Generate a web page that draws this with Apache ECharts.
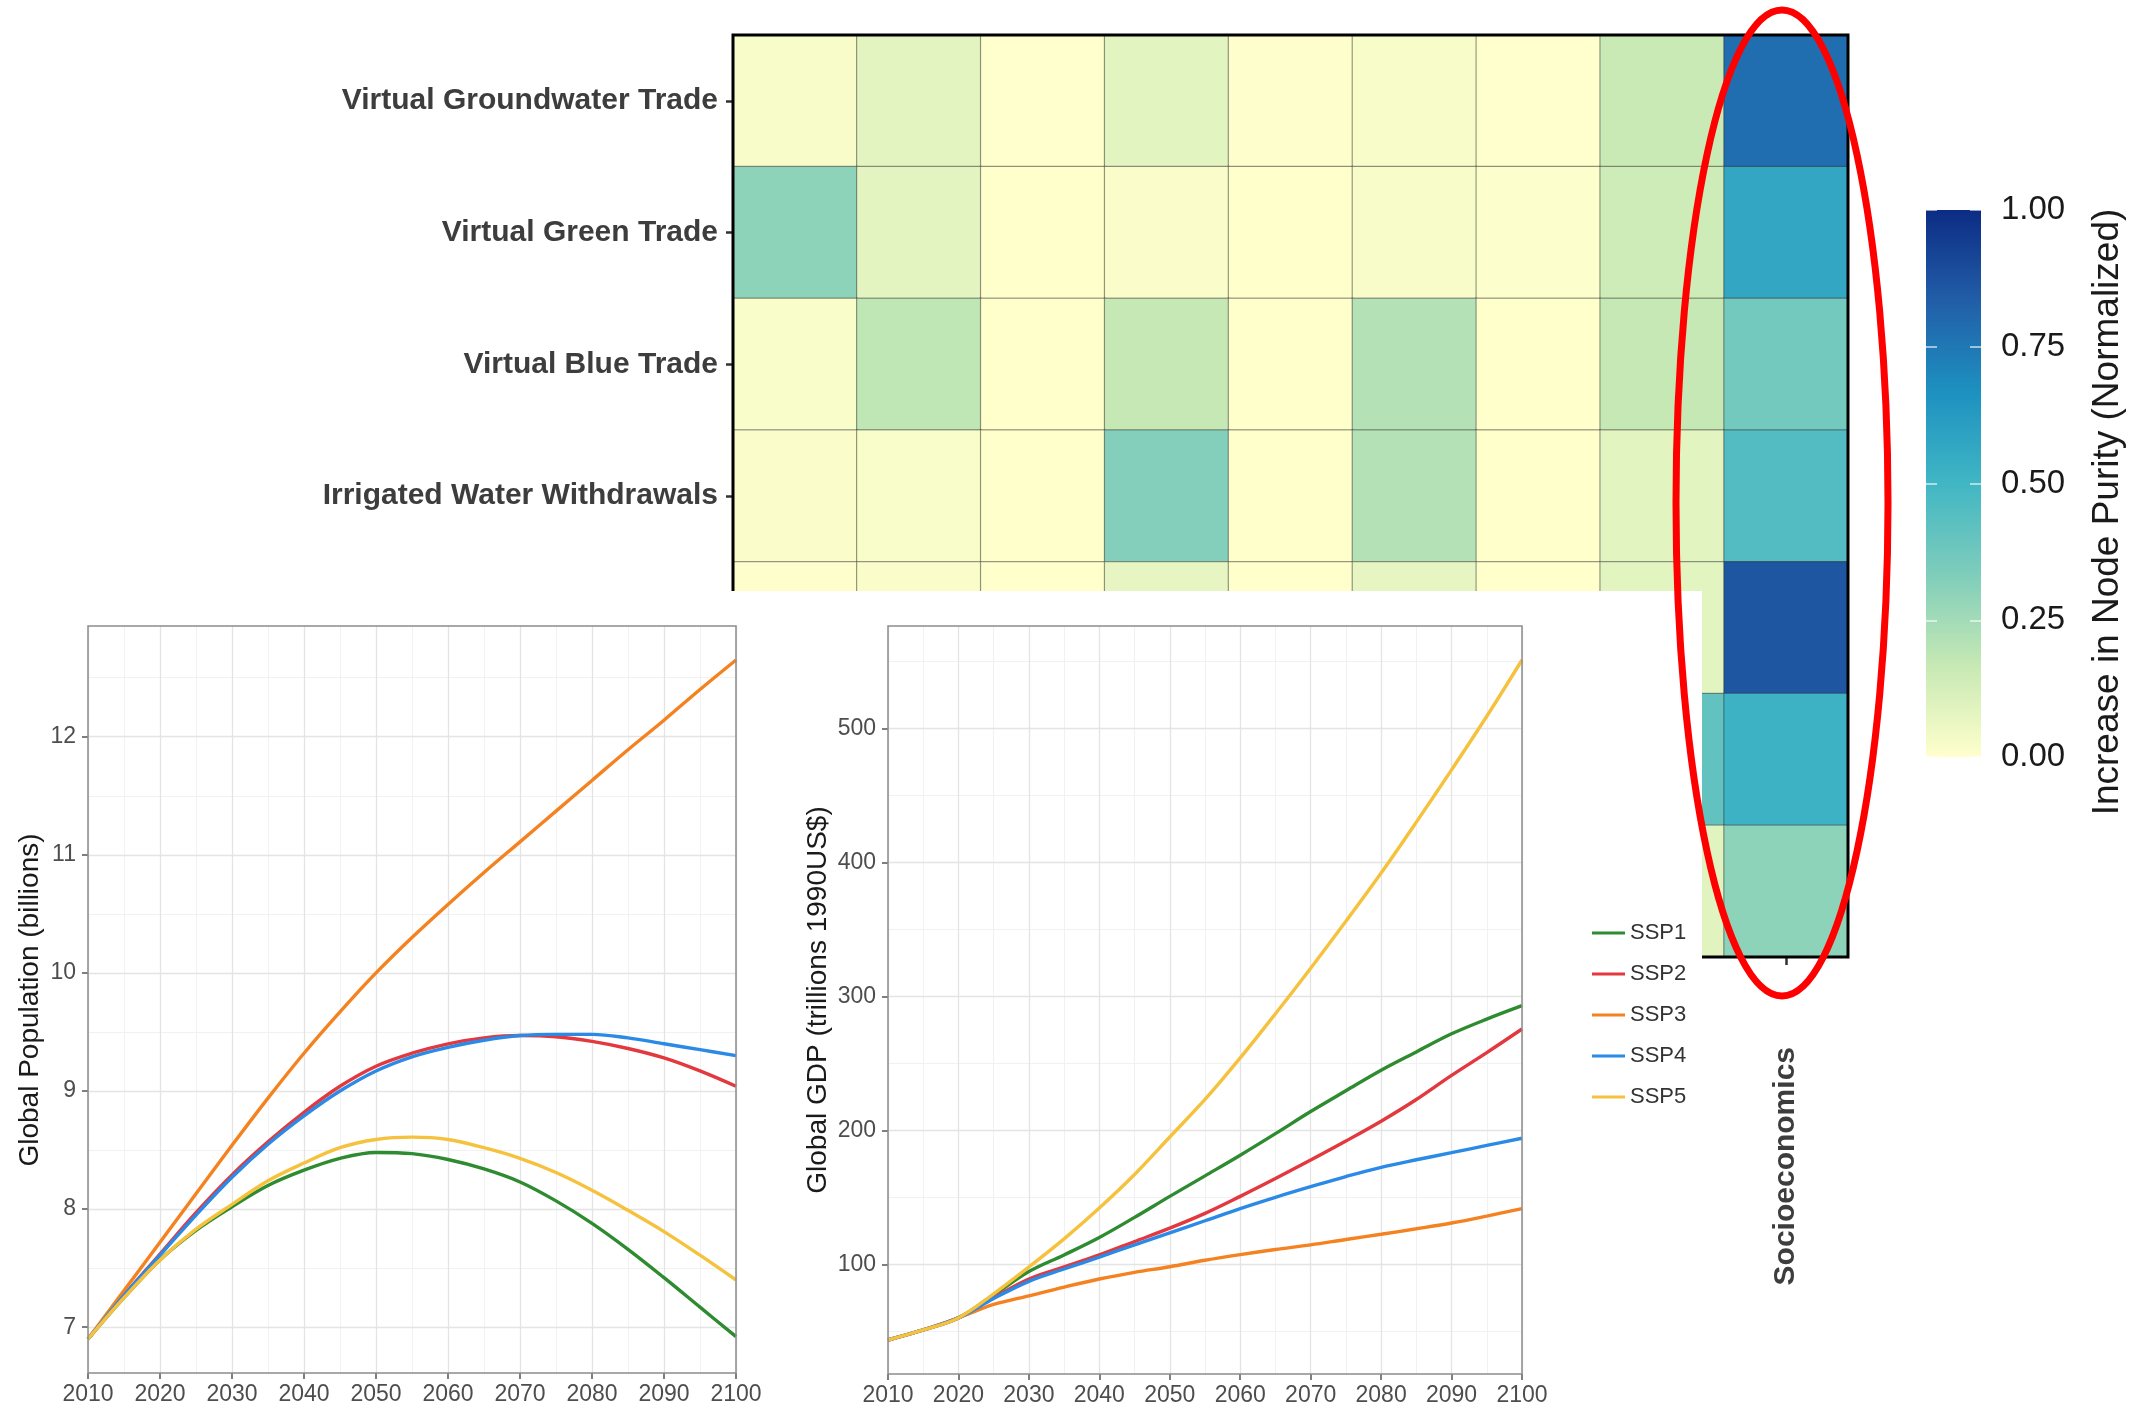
<!DOCTYPE html>
<html><head><meta charset="utf-8">
<script src="https://cdn.jsdelivr.net/npm/echarts@6/dist/echarts.min.js"></script>
<style>html,body{margin:0;padding:0;background:#fff}#c{width:2137px;height:1408px}</style>
</head><body><div id="c"></div>
<script>
const FONT = '"Liberation Sans", Arial, Helvetica, sans-serif';

// ---------- heatmap data ----------
const rowNames = ['Virtual Groundwater Trade', 'Virtual Green Trade', 'Virtual Blue Trade', 'Irrigated Water Withdrawals', '', '', ''];
const colNames = ['', '', '', '', '', '', '', '', 'Socioeconomics'];
const purityRow1 = [0.020, 0.083, 0.003, 0.085, 0.005, 0.024, 0.002, 0.160, 0.780];
const purityRow2 = [0.300, 0.080, 0.000, 0.015, 0.000, 0.024, 0.010, 0.146, 0.570];
const purityRow3 = [0.018, 0.185, 0.000, 0.170, 0.000, 0.210, 0.000, 0.170, 0.365];
const purityRow4 = [0.015, 0.018, 0.000, 0.324, 0.000, 0.210, 0.000, 0.085, 0.455];
const purityRow5 = [0.005, 0.015, 0.000, 0.075, 0.000, 0.075, 0.000, 0.085, 0.860];
const purityRow6 = [0.000, 0.000, 0.000, 0.000, 0.000, 0.000, 0.000, 0.410, 0.520];
const purityRow7 = [0.000, 0.000, 0.000, 0.000, 0.000, 0.000, 0.000, 0.090, 0.300];
const purityRows = [purityRow1, purityRow2, purityRow3, purityRow4, purityRow5, purityRow6, purityRow7];
const ylgnbu = ['#ffffcc', '#c7e9b4', '#7fcdbb', '#41b6c4', '#1d91c0', '#225ea8', '#0c2c84'];

// ---------- scenario data ----------
const scenarioNames = ['SSP1', 'SSP2', 'SSP3', 'SSP4', 'SSP5'];
const scenarioColors = ['#2e8b30', '#e2383e', '#f58220', '#2b8ae6', '#f6c23e'];
const years = [2010, 2015, 2020, 2025, 2030, 2035, 2040, 2045, 2050, 2055, 2060, 2065, 2070, 2075, 2080, 2085, 2090, 2095, 2100];

const popSSP1 = [6.90, 7.25, 7.57, 7.82, 8.02, 8.20, 8.33, 8.43, 8.48, 8.47, 8.42, 8.34, 8.23, 8.07, 7.88, 7.66, 7.42, 7.17, 6.92];
const popSSP2 = [6.90, 7.27, 7.62, 7.97, 8.29, 8.57, 8.82, 9.04, 9.21, 9.32, 9.40, 9.45, 9.47, 9.46, 9.42, 9.36, 9.28, 9.17, 9.04];
const popSSP3 = [6.90, 7.31, 7.72, 8.13, 8.54, 8.94, 9.32, 9.67, 10.00, 10.30, 10.58, 10.85, 11.11, 11.37, 11.63, 11.89, 12.14, 12.40, 12.65];
const popSSP4 = [6.90, 7.27, 7.61, 7.95, 8.27, 8.55, 8.79, 9.00, 9.17, 9.29, 9.37, 9.43, 9.47, 9.48, 9.48, 9.45, 9.40, 9.35, 9.30];
const popSSP5 = [6.90, 7.25, 7.57, 7.83, 8.04, 8.24, 8.39, 8.52, 8.59, 8.61, 8.59, 8.52, 8.43, 8.31, 8.16, 7.99, 7.81, 7.61, 7.40];

const gdpSSP1 = [43.5, 51, 60, 77, 94.6, 107, 120, 135, 150.7, 166, 181.4, 197.5, 214, 229.5, 244.8, 258.5, 272, 283, 293];
const gdpSSP2 = [43.5, 51, 60, 75, 89, 98, 107, 117, 127, 138, 150.7, 164, 177.8, 192, 206.8, 223, 241, 258, 275.6];
const gdpSSP3 = [43.5, 51, 60, 70, 76.5, 83, 89, 94, 98.2, 103, 107.2, 111, 114.5, 118.5, 122.4, 126.5, 130.8, 136, 141.6];
const gdpSSP4 = [43.5, 51, 60, 74.5, 87.3, 96.5, 105.4, 114.5, 123.5, 132.5, 141.6, 150, 157.9, 165.5, 172.4, 178, 183.3, 188.7, 194.1];
const gdpSSP5 = [43.5, 51, 60, 78, 98, 119, 142, 167, 195, 223, 254, 287, 321, 356, 392, 430, 469, 509, 551];

const popSeries = [popSSP1, popSSP2, popSSP3, popSSP4, popSSP5];
const gdpSeries = [gdpSSP1, gdpSSP2, gdpSSP3, gdpSSP4, gdpSSP5];

const popTicks = [7, 8, 9, 10, 11, 12];
const popMinorTicks = [7.5, 8.5, 9.5, 10.5, 11.5, 12.5];
const gdpTicks = [100, 200, 300, 400, 500];
const gdpMinorTicks = [50, 150, 250, 350, 450, 550];

// ggplot-like 5% expansion of the data range
function expandRange(arrs) {
  let mn = Infinity, mx = -Infinity;
  arrs.forEach(a => a.forEach(v => { mn = Math.min(mn, v); mx = Math.max(mx, v); }));
  const r = mx - mn;
  return [mn - 0.05 * r, mx + 0.05 * r];
}
const popRange = expandRange(popSeries);
const gdpRange = expandRange(gdpSeries);

const heatData = [];
purityRows.forEach((row, r) => row.forEach((v, c) => heatData.push([c, r, v])));

const chart = echarts.init(document.getElementById('c'), null, { renderer: 'canvas' });

const tickLabel = { fontSize: 23, color: '#4d4d4d', fontFamily: FONT };
const majorSplit = { show: true, lineStyle: { color: '#e4e4e4', width: 1.3 } };
const minorSplit = { show: true, lineStyle: { color: '#f1f1f1', width: 1 } };
const tickStyle = { show: true, length: 6, lineStyle: { color: '#555', width: 1.5 } };

function yearAxis(grid) {
  return [
    { gridIndex: grid, type: 'value', min: 2010, max: 2100, interval: 10, z: 7,
      axisLine: { show: false }, axisTick: tickStyle,
      axisLabel: Object.assign({ margin: 10, formatter: v => String(v) }, tickLabel),
      splitLine: majorSplit },
    { gridIndex: grid, type: 'value', min: 2010, max: 2100, interval: 5, z: 6,
      axisLine: { show: false }, axisTick: { show: false }, axisLabel: { show: false },
      splitLine: minorSplit }
  ];
}
function valueAxes(grid, range, ticks, minor) {
  return [
    { gridIndex: grid, type: 'value', min: range[0], max: range[1], z: 7, position: 'left',
      axisLine: { show: false },
      axisTick: Object.assign({ customValues: ticks }, tickStyle),
      axisLabel: Object.assign({ customValues: ticks, margin: 12 }, tickLabel),
      splitLine: majorSplit },
    { gridIndex: grid, type: 'value', min: range[0], max: range[1], z: 6, position: 'right',
      axisLine: { show: false },
      axisTick: { show: false, customValues: minor.filter(v => v > range[0] && v < range[1]) },
      axisLabel: { show: false },
      splitLine: minorSplit }
  ];
}

const lineSeries = [];
[[popSeries, 2, 3], [gdpSeries, 4, 5]].forEach(([set, xi, yi]) => {
  scenarioNames.forEach((name, i) => {
    lineSeries.push({
      type: 'line', name, xAxisIndex: xi, yAxisIndex: yi, z: 8,
      data: years.map((y, k) => [y, set[i][k]]),
      showSymbol: false, smooth: 0.35, silent: true,
      lineStyle: { color: scenarioColors[i], width: 3.4 }, itemStyle: { color: scenarioColors[i] }
    });
  });
});

const option = {
  animation: false,
  backgroundColor: '#ffffff',
  textStyle: { fontFamily: FONT },
  grid: [
    { left: 733, top: 35, width: 1115, height: 922, show: true, borderColor: '#000', borderWidth: 3, backgroundColor: 'transparent', z: 3 },
    { left: 1926, top: 210, width: 55, height: 547, show: false },
    { left: 88, top: 626, width: 648, height: 747, show: true, borderColor: '#8c8c8c', borderWidth: 1.5, backgroundColor: 'transparent', z: 9 },
    { left: 888, top: 626, width: 634, height: 748, show: true, borderColor: '#8c8c8c', borderWidth: 1.5, backgroundColor: 'transparent', z: 9 }
  ],
  xAxis: [
    { gridIndex: 0, type: 'category', data: colNames, z: 1,
      axisLine: { show: false },
      axisTick: { show: true, alignWithLabel: true, interval: 0, length: 8, lineStyle: { color: '#333', width: 2.5 } },
      axisLabel: { interval: 0, rotate: 90, margin: 90, fontSize: 30, fontWeight: 'bold', color: '#3d3d3d', fontFamily: FONT, padding: [22, 0, 0, 0] },
      splitLine: { show: false } },
    { gridIndex: 1, type: 'category', data: [''], show: false },
    ...yearAxis(2),
    ...yearAxis(3)
  ],
  yAxis: [
    { gridIndex: 0, type: 'category', data: rowNames, inverse: true, z: 1,
      axisLine: { show: false },
      axisTick: { show: true, alignWithLabel: true, interval: 0, length: 7, lineStyle: { color: '#333', width: 2.5 } },
      axisLabel: { interval: 0, margin: 15, fontSize: 30, fontWeight: 'bold', color: '#3d3d3d', fontFamily: FONT },
      splitLine: { show: false } },
    { gridIndex: 1, type: 'value', min: 0, max: 1, interval: 0.25, position: 'right', z: 3,
      axisLine: { show: false },
      axisTick: { show: true, inside: true, length: 11, lineStyle: { color: 'rgba(255,255,255,0.75)', width: 1.5 } },
      axisLabel: { margin: 20, fontSize: 33, color: '#1a1a1a', fontFamily: FONT, formatter: v => v.toFixed(2) },
      splitLine: { show: false } },
    { gridIndex: 1, type: 'value', min: 0, max: 1, interval: 0.25, position: 'left', z: 3,
      axisLine: { show: false },
      axisTick: { show: true, inside: true, length: 11, lineStyle: { color: 'rgba(255,255,255,0.75)', width: 1.5 } },
      axisLabel: { show: false }, splitLine: { show: false } },
    ...valueAxes(2, popRange, popTicks, popMinorTicks),
    ...valueAxes(3, gdpRange, gdpTicks, gdpMinorTicks)
  ],
  visualMap: {
    type: 'continuous', min: 0, max: 1, seriesIndex: 0, dimension: 2, show: false,
    inRange: { color: ylgnbu }
  },
  legend: {
    data: scenarioNames, orient: 'vertical', left: 1592, top: 922, padding: 0,
    itemWidth: 33, itemHeight: 3, itemGap: 19, icon: 'rect', z: 10,
    textStyle: { fontSize: 22, color: '#333', lineHeight: 22, fontFamily: FONT }
  },
  series: [
    { type: 'heatmap', xAxisIndex: 0, yAxisIndex: 0, data: heatData, z: 2, silent: true,
      itemStyle: { borderColor: 'rgba(50,50,50,0.45)', borderWidth: 1.2 },
      emphasis: { disabled: true } },
    { type: 'bar', xAxisIndex: 1, yAxisIndex: 1, data: [1], barWidth: '100%', silent: true, z: 2,
      itemStyle: { color: { type: 'linear', x: 0, y: 1, x2: 0, y2: 0,
        colorStops: ylgnbu.map((c, i) => ({ offset: i / (ylgnbu.length - 1), color: c })) } } },
    ...lineSeries
  ],
  graphic: { elements: [
    { type: 'rect', shape: { x: 0, y: 591, width: 1702, height: 817 }, style: { fill: '#ffffff' }, z: 5, silent: true },
    { type: 'text', x: 30, y: 1000, rotation: Math.PI / 2, z: 20, silent: true,
      style: { text: 'Global Population (billions)', fontSize: 28, fontFamily: FONT, fill: '#1a1a1a', align: 'center', verticalAlign: 'middle' } },
    { type: 'text', x: 818, y: 1000, rotation: Math.PI / 2, z: 20, silent: true,
      style: { text: 'Global GDP (trillions 1990US$)', fontSize: 28, fontFamily: FONT, fill: '#1a1a1a', align: 'center', verticalAlign: 'middle' } },
    { type: 'text', x: 2108, y: 512, rotation: Math.PI / 2, z: 20, silent: true,
      style: { text: 'Increase in Node Purity (Normalized)', fontSize: 37, fontFamily: FONT, fill: '#1a1a1a', align: 'center', verticalAlign: 'middle' } },
    { type: 'ellipse', shape: { cx: 1782, cy: 503, rx: 106, ry: 493 }, z: 30, silent: true,
      style: { fill: 'none', stroke: '#ff0000', lineWidth: 7 } }
  ] }
};
chart.setOption(option);
</script>
</body></html>
